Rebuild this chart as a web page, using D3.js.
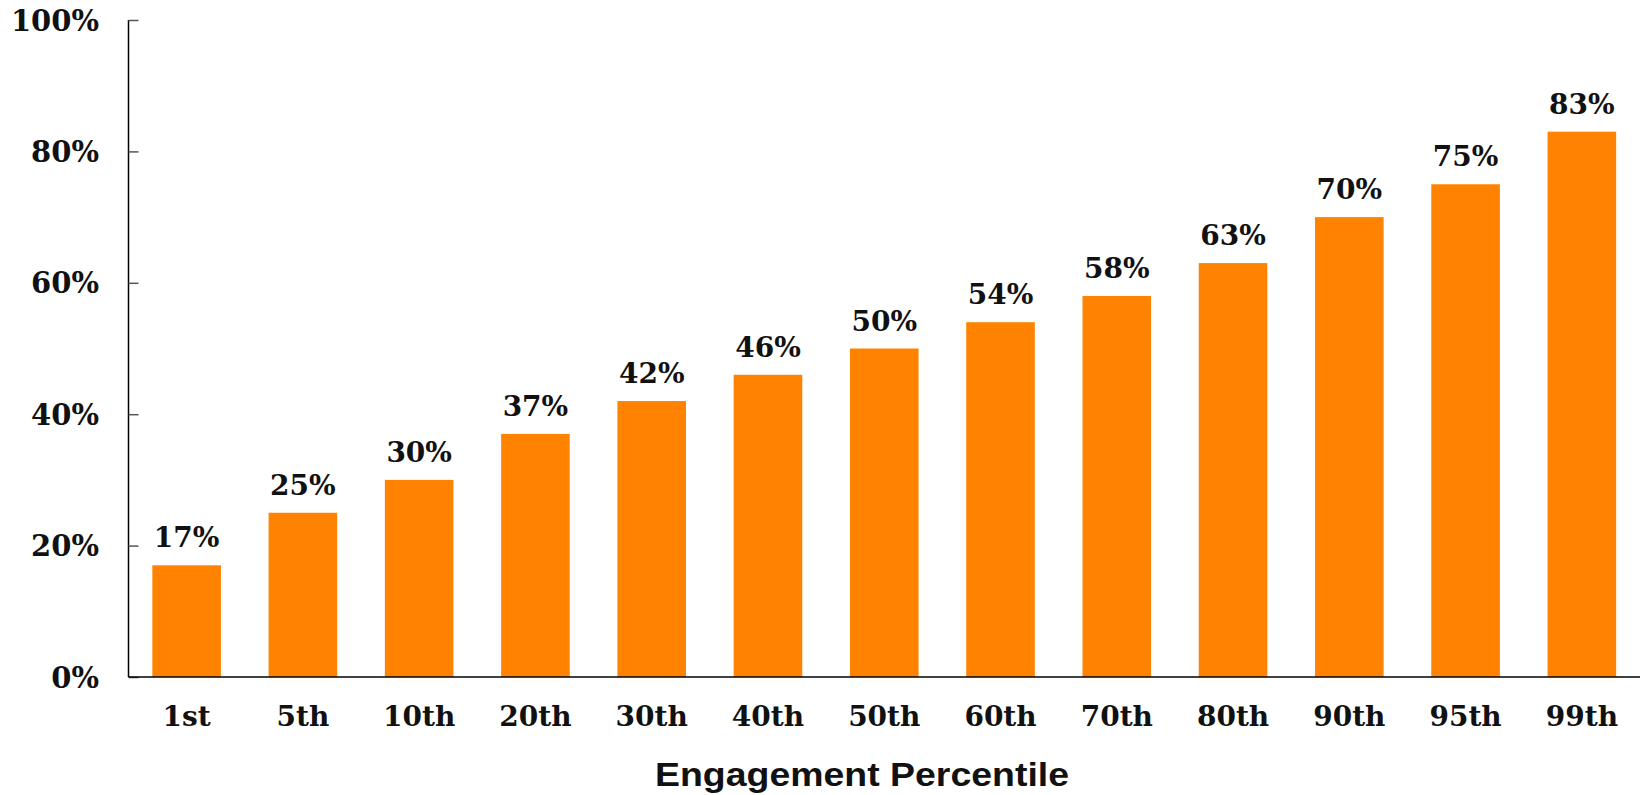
<!DOCTYPE html>
<html>
<head>
<meta charset="utf-8">
<script src="https://cdn.jsdelivr.net/npm/d3@7"></script>
<style>
  html, body { margin: 0; padding: 0; background: #fff; }
  svg { display: block; }
</style>
</head>
<body>
<svg id="chart" width="1640" height="795"></svg>
<script>
const categories = ["1st", "5th", "10th", "20th", "30th", "40th", "50th", "60th", "70th", "80th", "90th", "95th", "99th"];
const values = [17, 25, 30, 37, 42, 46, 50, 54, 58, 63, 70, 75, 83];
const yTicks = [0, 20, 40, 60, 80, 100];
const xTitle = "Engagement Percentile";

(function () {
const svg = d3.select("#chart");
const serif = "'DejaVu Serif', 'Liberation Serif', serif";
const mLeft = 128.5, mRight = 1640, mTop = 20, mBottom = 677;

const x = d3.scaleBand().domain(categories).range([mLeft, mRight])
  .paddingInner(0.41).paddingOuter(0.205);
const y = d3.scaleLinear().domain([0, 100]).range([mBottom, mTop]);

// bars
svg.append("g").selectAll("rect").data(values).join("rect")
  .attr("x", (d, i) => x(categories[i]))
  .attr("y", d => y(d))
  .attr("width", x.bandwidth())
  .attr("height", d => y(0) - y(d))
  .attr("fill", "#ff8300");

// y axis
const yAxis = svg.append("g").attr("transform", `translate(${mLeft},0)`)
  .call(d3.axisRight(y).tickValues(yTicks).tickSize(10).tickFormat(""));
yAxis.select(".domain").attr("stroke", "#000").attr("stroke-width", 1.5).attr("d", `M0,${mTop}V${mBottom}`);
yAxis.selectAll(".tick line").attr("stroke", "#555").attr("stroke-width", 1.5);

svg.append("g").selectAll("text").data(yTicks).join("text")
  .attr("x", 99)
  .attr("y", d => y(d) + 10.5)
  .attr("text-anchor", "end")
  .attr("font-family", serif)
  .attr("font-weight", "bold")
  .attr("font-size", 29)
  .attr("fill", "#111")
  .text(d => d + "%");

// x axis
const xAxis = svg.append("g").attr("transform", `translate(0,${mBottom})`)
  .call(d3.axisBottom(x).tickSize(0).tickPadding(0));
xAxis.select(".domain").attr("stroke", "#000").attr("stroke-width", 1.5).attr("d", `M${mLeft},0H${mRight}`);
xAxis.selectAll(".tick text")
  .attr("y", 49).attr("dy", null)
  .attr("font-family", serif)
  .attr("font-weight", "bold")
  .attr("font-size", 28)
  .attr("fill", "#111");

// value labels
svg.append("g").selectAll("text").data(values).join("text")
  .attr("x", (d, i) => x(categories[i]) + x.bandwidth() / 2)
  .attr("y", d => y(d) - 18)
  .attr("text-anchor", "middle")
  .attr("font-family", serif)
  .attr("font-weight", "bold")
  .attr("font-size", 28)
  .attr("fill", "#111")
  .text(d => d + "%");

// x title
svg.append("text")
  .attr("x", 862).attr("y", 786)
  .attr("text-anchor", "middle")
  .attr("font-family", "'Liberation Sans', Arial, sans-serif")
  .attr("font-weight", "bold")
  .attr("font-size", 33)
  .attr("textLength", 414)
  .attr("lengthAdjust", "spacingAndGlyphs")
  .attr("fill", "#111")
  .text(xTitle);
})();
</script>
</body>
</html>
